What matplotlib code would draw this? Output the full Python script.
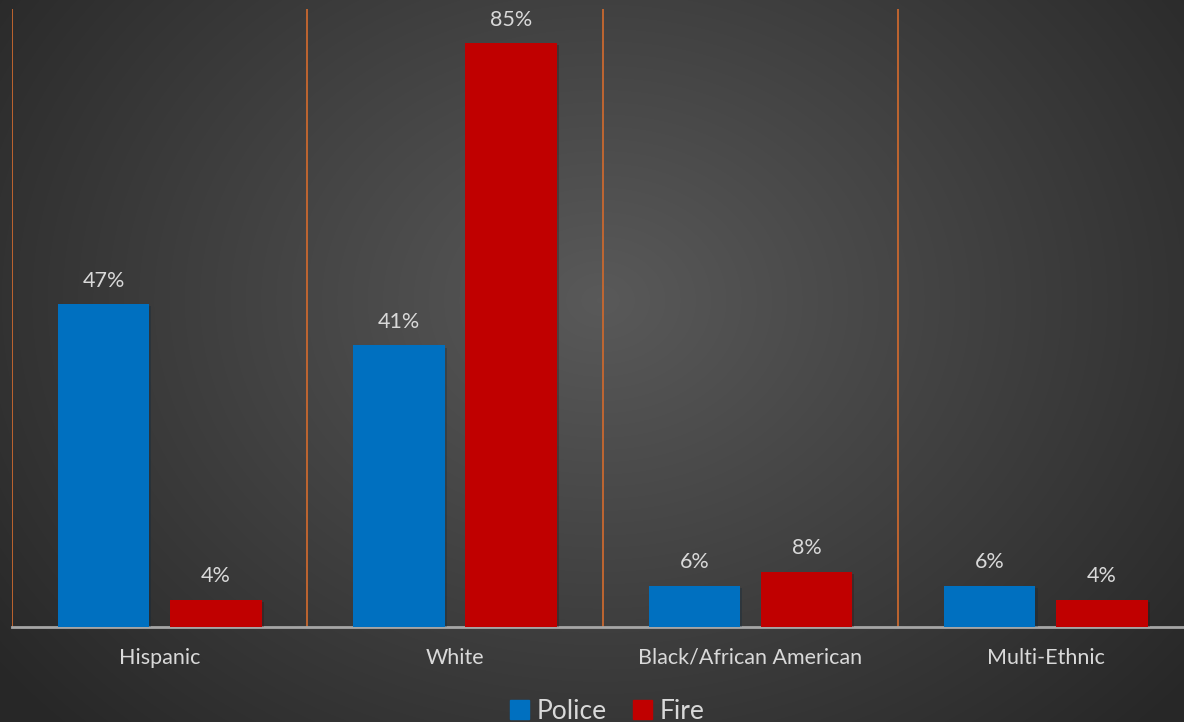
import numpy as np
import matplotlib.pyplot as plt
import matplotlib.patheffects as pe
from matplotlib.patches import Patch

categories = ['Hispanic', 'White', 'Black/African American', 'Multi-Ethnic']
police = [47, 41, 6, 6]
fire = [4, 85, 8, 4]

blue = '#0070C0'
red = '#C00000'
txt = '#D9D9D9'

plt.rcParams['font.family'] = ['Lato', 'DejaVu Sans']

fig = plt.figure(figsize=(11.84, 7.22), dpi=100)

# radial gradient backdrop
bg = fig.add_axes([0, 0, 1, 1])
yy, xx = np.mgrid[0:722, 0:1184]
r = np.sqrt(((xx - 600) / 700.0) ** 2 + ((yy - 300) / 560.0) ** 2)
shade = np.clip(0.35 - 0.18 * r, 0.155, 0.35)
bg.imshow(np.dstack([shade] * 3), extent=[0, 1, 0, 1], aspect='auto')
bg.axis('off')

ax = fig.add_axes([12 / 1184, 95 / 722, 1181.5 / 1184, 618 / 722])
ax.patch.set_alpha(0)

x = np.arange(len(categories))
w = 0.31
shadow = [pe.SimplePatchShadow(offset=(1.5, -1.5), alpha=0.25), pe.Normal()]
b1 = ax.bar(x - 0.19, police, w, color=blue, path_effects=shadow, zorder=3)
b2 = ax.bar(x + 0.19, fire, w, color=red, path_effects=shadow, zorder=3)

for bars, vals in [(b1, police), (b2, fire)]:
    for b, v in zip(bars, vals):
        ax.text(b.get_x() + b.get_width() / 2, v + 2.0, f'{v}%', ha='center',
                va='bottom', color=txt, fontsize=15.5)

# separators between categories
for s in np.arange(len(categories)) - 0.5:
    ax.axvline(s, color='#C9682F', lw=1.3, zorder=1)

ax.set_xlim(-0.5, len(categories) - 0.5)
ax.set_ylim(0, 90)
ax.set_xticks(x)
ax.set_xticklabels(categories, color=txt, fontsize=15.5)
ax.tick_params(axis='x', length=0, pad=15)
ax.set_yticks([])
for side in ['top', 'right', 'left']:
    ax.spines[side].set_visible(False)
ax.spines['bottom'].set_color('#A6A6A6')
ax.spines['bottom'].set_linewidth(2)

handles = [Patch(color=blue, label='Police'), Patch(color=red, label='Fire')]
fig.legend(handles=handles, loc='lower center', bbox_to_anchor=(0.513, -0.035),
           ncol=2, frameon=False, fontsize=19, labelcolor=txt,
           handlelength=0.7, handleheight=0.7, handletextpad=0.3, columnspacing=1.0)

fig.savefig('out.png', dpi=100)
